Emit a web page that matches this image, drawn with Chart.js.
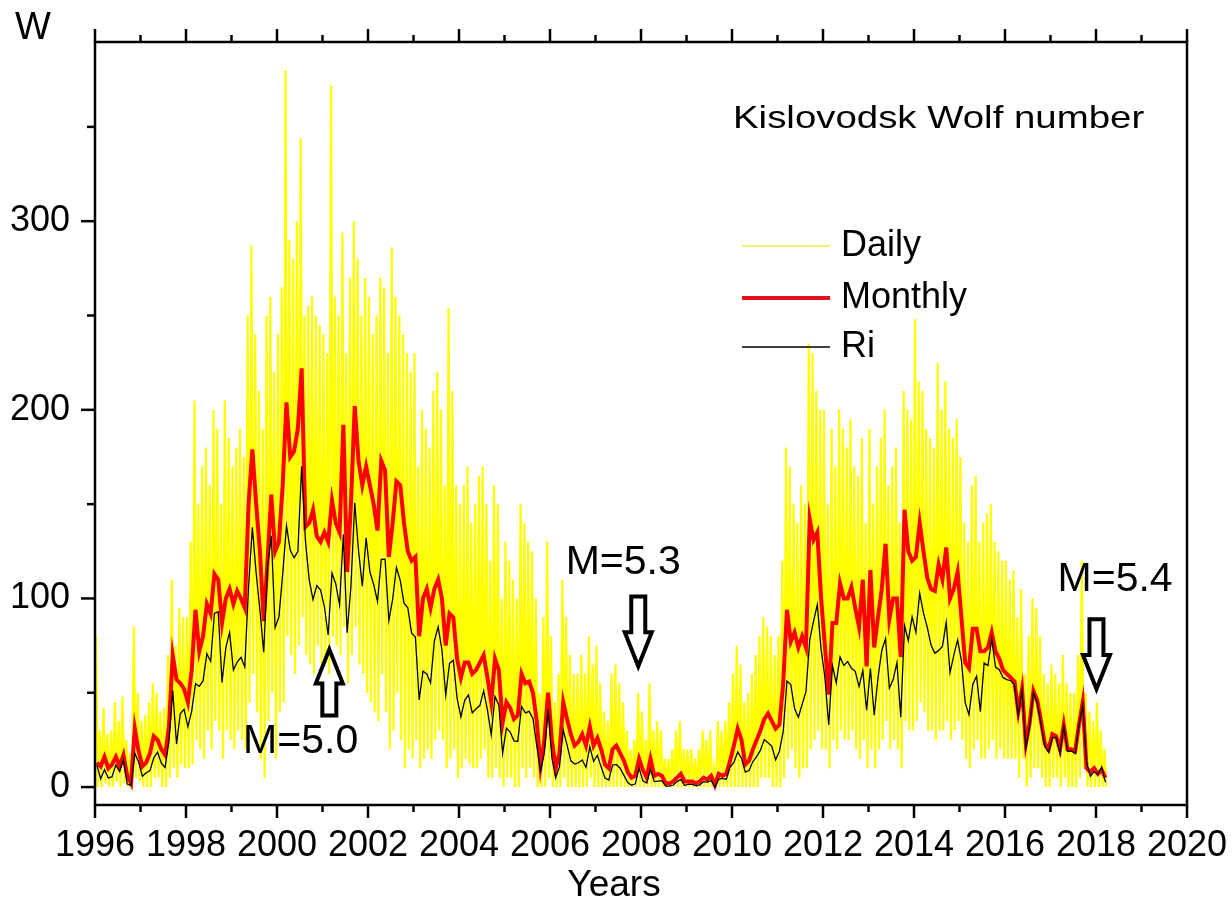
<!DOCTYPE html>
<html>
<head>
<meta charset="utf-8">
<script src="https://cdn.jsdelivr.net/npm/chart.js@4.4.1/dist/chart.umd.min.js"></script>
<style>
  html, body { margin: 0; padding: 0; background: #fff; }
  canvas { display: block; }
</style>
</head>
<body>
<canvas id="wolfChart" width="1232" height="903"></canvas>
<script>
const startYear = 1996;   // first month of every series is Jan 1996

const xTickYears = [1996, 1998, 2000, 2002, 2004, 2006, 2008, 2010, 2012, 2014, 2016, 2018, 2020];
const xMinorYears = [1997, 1999, 2001, 2003, 2005, 2007, 2009, 2011, 2013, 2015, 2017, 2019];
const yTickValues = [0, 100, 200, 300];
const yMinorValues = [50, 150, 250, 350];

// Kislovodsk monthly Wolf number, Jan 1996 .. Mar 2018
const monthlyW = [
  13, 11, 16, 10, 12, 16, 11, 17, 6, 2, 31, 19,
  11, 13, 18, 27, 25, 20, 17, 32, 70, 57, 55, 52,
  45, 62, 94, 72, 80, 97, 92, 113, 110, 87, 100, 105,
  97, 104, 100, 95, 150, 179, 150, 125, 88, 120, 155, 125,
  130, 160, 204, 175, 178, 190, 222, 138, 140, 147, 133, 130,
  135, 130, 152, 140, 135, 192, 114, 150, 202, 173, 160, 170,
  160, 150, 136, 173, 168, 122, 140, 162, 160, 140, 125, 120,
  122, 80, 100, 105, 95, 105, 110, 100, 75, 92, 90, 68,
  58, 66, 66, 60, 62, 66, 70, 58, 45, 68, 62, 34,
  45, 42, 36, 38, 60, 55, 56, 50, 35, 11, 25, 50,
  25, 10, 18, 45, 36, 28, 22, 24, 28, 22, 32, 22,
  26, 20, 12, 10, 20, 22, 18, 14, 8, 5, 6, 15,
  9, 5, 15, 6, 7, 6, 2, 2, 3, 5, 7, 3,
  3, 3, 2, 3, 5, 4, 6, 1, 7, 6, 7, 14,
  22, 31, 25, 12, 14, 20, 25, 30, 36, 39, 35, 31,
  33, 55, 94, 77, 82, 74, 80, 74, 142, 131, 135, 100,
  75, 49, 87, 87, 108, 100, 100, 106, 95, 85, 110, 64,
  115, 74, 90, 105, 129, 89, 100, 100, 69, 147, 125, 120,
  122, 140, 125, 111, 105, 104, 118, 110, 127, 100, 105, 114,
  90, 66, 63, 84, 84, 72, 72, 74, 82, 72, 68, 62,
  60, 58, 56, 40, 52, 23, 34, 51, 46, 35, 23, 20,
  28, 27, 20, 33, 20, 20, 19, 33, 45, 10, 8, 10,
  7, 9, 5
];

// International sunspot number Ri, Jan 1996 .. Mar 2018
const riValues = [
  11.5, 4.4, 9.2, 4.8, 5.5, 11.8, 8.2, 14.4, 1.6, 0.9, 17.9, 13.3,
  5.7, 7.6, 8.7, 15.5, 18.5, 12.7, 10.4, 24.4, 51.3, 22.8, 39.0, 41.2,
  31.9, 40.3, 54.8, 53.4, 56.3, 70.7, 66.6, 92.2, 92.9, 55.5, 74.0, 81.9,
  62.0, 66.3, 68.8, 63.7, 106.4, 137.7, 113.5, 93.7, 71.5, 116.7, 133.2, 84.6,
  90.1, 112.9, 138.5, 125.5, 121.6, 124.9, 170.1, 130.5, 109.7, 99.4, 106.8, 104.4,
  95.6, 80.6, 113.5, 107.7, 96.6, 134.0, 81.8, 106.4, 150.7, 125.5, 106.5, 132.2,
  114.1, 107.4, 98.4, 120.7, 120.8, 88.3, 99.6, 116.4, 109.6, 97.5, 95.0, 81.6,
  79.5, 46.2, 61.5, 60.0, 55.2, 77.4, 85.0, 72.7, 48.8, 65.6, 67.2, 47.0,
  37.2, 46.0, 48.9, 39.3, 41.5, 43.2, 51.0, 40.9, 27.7, 48.0, 43.5, 17.9,
  31.3, 29.2, 24.5, 24.2, 42.7, 39.3, 40.1, 36.4, 22.1, 8.5, 18.0, 41.2,
  15.4, 5.0, 10.8, 30.2, 22.2, 13.9, 12.2, 12.9, 14.4, 10.5, 21.4, 13.6,
  16.9, 10.6, 4.8, 3.7, 11.7, 12.0, 10.0, 6.2, 2.4, 0.9, 1.7, 10.1,
  3.3, 2.1, 9.3, 2.9, 3.2, 3.4, 0.5, 0.5, 1.1, 2.9, 4.1, 0.8,
  1.5, 1.4, 0.7, 1.2, 2.9, 2.6, 3.5, 0.0, 4.2, 4.6, 4.2, 10.6,
  13.1, 18.6, 15.4, 7.9, 8.8, 13.5, 16.1, 19.6, 25.2, 23.5, 21.6, 14.5,
  19.0, 29.4, 56.2, 54.4, 41.6, 37.0, 43.9, 50.6, 78.0, 88.0, 96.7, 73.0,
  58.3, 32.9, 64.3, 55.2, 69.0, 64.5, 66.5, 63.0, 61.4, 53.3, 61.8, 40.8,
  62.9, 38.1, 57.9, 72.4, 78.7, 52.5, 57.0, 66.0, 37.0, 85.6, 77.6, 90.3,
  82.0, 102.8, 92.2, 84.7, 75.2, 71.0, 72.4, 74.6, 87.4, 60.6, 70.0, 78.1,
  67.0, 44.8, 38.4, 54.4, 58.8, 40.0, 65.8, 64.4, 78.6, 63.6, 62.2, 58.0,
  57.0, 56.4, 54.1, 37.9, 51.5, 20.5, 32.4, 50.2, 44.6, 33.4, 21.4, 18.5,
  26.1, 26.4, 17.7, 32.3, 18.9, 19.2, 17.8, 32.6, 43.6, 13.2, 5.7, 8.2,
  6.8, 10.7, 2.5
];

// daily values: highest and lowest day of each month, Jan 1996 .. Mar 2018
const dailyHigh = [
  80, 30, 42, 28, 30, 45, 35, 48, 25, 18, 85, 50,
  35, 38, 45, 55, 50, 40, 42, 70, 110, 75, 95, 90,
  90, 130, 205, 150, 170, 180, 160, 200, 190, 150, 205, 185,
  170, 180, 190, 175, 250, 287, 240, 210, 190, 250, 260, 220,
  240, 265, 380, 290, 280, 300, 344, 250, 255, 260, 250, 245,
  240, 230, 372, 260, 250, 294, 230, 270, 300, 280, 250, 270,
  260, 240, 250, 270, 265, 230, 286, 260, 250, 240, 230, 220,
  230, 170, 200, 190, 180, 210, 220, 200, 160, 254, 210, 160,
  150, 160, 170, 140, 150, 165, 170, 150, 120, 160, 150, 100,
  130, 120, 110, 100, 150, 140, 130, 125, 100, 50, 90, 130,
  80, 45, 60, 110, 90, 70, 60, 60, 70, 60, 80, 65,
  75, 55, 40, 35, 60, 65, 55, 45, 30, 20, 25, 50,
  40, 25, 55, 30, 35, 30, 15, 15, 20, 30, 35, 20,
  20, 20, 15, 20, 30, 25, 30, 10, 35, 30, 35, 45,
  60, 75, 65, 45, 50, 60, 70, 80, 90, 85, 80, 70,
  80, 120, 180, 170, 150, 140, 160, 150, 235, 230, 210, 200,
  200, 150, 190, 170, 200, 190, 180, 195, 170, 165, 185, 140,
  190, 150, 170, 185, 200, 160, 170, 180, 140, 210, 200, 195,
  248, 215, 210, 190, 185, 180, 225, 200, 215, 190, 185, 195,
  175, 140, 130, 160, 165, 130, 140, 145, 150, 130, 125, 120,
  120, 110, 115, 90, 105, 60, 80, 100, 95, 80, 60, 55,
  65, 60, 55, 70, 55, 50, 50, 70, 120, 50, 40, 35,
  45, 30, 20
];
const dailyLow = [
  0, 0, 2, 0, 0, 3, 0, 2, 0, 0, 5, 3,
  0, 0, 0, 5, 5, 0, 0, 5, 10, 5, 12, 10,
  10, 12, 25, 20, 15, 30, 20, 35, 30, 15, 30, 25,
  20, 30, 25, 20, 45, 60, 40, 15, 5, 35, 50, 15,
  40, 45, 80, 70, 60, 75, 90, 70, 65, 60, 75, 65,
  65, 60, 80, 75, 70, 85, 55, 70, 85, 65, 60, 50,
  45, 40, 35, 60, 40, 20, 30, 50, 25, 10, 20, 15,
  25, 10, 15, 20, 15, 25, 30, 25, 10, 15, 20, 5,
  10, 15, 12, 10, 10, 15, 20, 5, 5, 10, 5, 0,
  5, 5, 0, 0, 10, 5, 10, 5, 0, 0, 0, 5,
  0, 0, 0, 5, 0, 0, 0, 0, 0, 0, 5, 0,
  0, 0, 0, 0, 0, 0, 0, 0, 0, 0, 0, 0,
  0, 0, 0, 0, 0, 0, 0, 0, 0, 0, 0, 0,
  0, 0, 0, 0, 0, 0, 0, 0, 0, 0, 0, 0,
  0, 0, 0, 0, 0, 0, 0, 5, 5, 5, 0, 0,
  0, 5, 15, 20, 10, 5, 10, 10, 20, 25, 30, 20,
  20, 10, 25, 20, 30, 25, 25, 30, 20, 15, 25, 10,
  20, 10, 20, 25, 35, 20, 25, 20, 10, 35, 30, 30,
  35, 45, 40, 30, 30, 25, 30, 30, 35, 25, 30, 35,
  25, 15, 10, 20, 25, 15, 15, 20, 25, 15, 20, 15,
  15, 15, 15, 5, 15, 0, 5, 10, 10, 5, 0, 0,
  5, 5, 0, 5, 0, 0, 0, 5, 10, 0, 0, 0,
  0, 0, 0
];

// earthquake markers
const quakeLabels = ['M=5.0', 'M=5.3', 'M=5.4'];
const quakeYears = [2001.15, 2007.94, 2018.01];
const arrowTailW = [38, 101, 89];
const arrowTipW = [73, 64, 52];
const quakeLabelYears = [2000.52, 2007.61, 2018.42];
const quakeLabelW = [24, 119, 110];

const FONT = '"Liberation Sans", Arial, sans-serif';

const monthX = i => startYear + (i + 0.5) / 12;
const monthlyPoints = monthlyW.map((v, i) => ({ x: monthX(i), y: v }));
const riPoints = riValues.map((v, i) => ({ x: monthX(i), y: v }));
const dailyPoints = [];
dailyHigh.forEach((h, i) => {
  dailyPoints.push({ x: startYear + (i + 0.25) / 12, y: h });
  dailyPoints.push({ x: startYear + (i + 0.75) / 12, y: dailyLow[i] });
});

function line(ctx, x1, y1, x2, y2) {
  ctx.beginPath();
  ctx.moveTo(x1, y1);
  ctx.lineTo(x2, y2);
  ctx.stroke();
}

const decorations = {
  id: 'decorations',
  afterDatasetsDraw(chart) {
    const { ctx, chartArea: a, scales: { x, y } } = chart;
    ctx.save();
    ctx.strokeStyle = '#000';
    ctx.lineWidth = 2.5;
    ctx.strokeRect(a.left, a.top, a.right - a.left, a.bottom - a.top);

    // tick marks, outside the frame
    xTickYears.forEach(v => {
      const px = x.getPixelForValue(v);
      line(ctx, px, a.bottom, px, a.bottom + 13);
      line(ctx, px, a.top, px, a.top - 13);
    });
    xMinorYears.forEach(v => {
      const px = x.getPixelForValue(v);
      line(ctx, px, a.bottom, px, a.bottom + 7);
      line(ctx, px, a.top, px, a.top - 7);
    });
    yTickValues.forEach(v => {
      const py = y.getPixelForValue(v);
      line(ctx, a.left - 14, py, a.left, py);
    });
    yMinorValues.forEach(v => {
      const py = y.getPixelForValue(v);
      line(ctx, a.left - 8, py, a.left, py);
    });

    ctx.fillStyle = '#000';
    ctx.textBaseline = 'middle';
    ctx.textAlign = 'left';
    ctx.font = '38px ' + FONT;
    ctx.fillText('W', 15, 29);

    ctx.textAlign = 'center';
    ctx.font = '37px ' + FONT;
    ctx.fillText('Years', 614, 886);
    ctx.textAlign = 'left';

    // title, stretched a little like the original
    ctx.save();
    ctx.translate(733, 119);
    ctx.scale(1.2, 1);
    ctx.font = '32px ' + FONT;
    ctx.fillText('Kislovodsk Wolf number', 0, 0);
    ctx.restore();

    // legend
    const legendY = [246, 298, 347];
    ctx.font = '36px ' + FONT;
    chart.data.datasets.forEach((ds, i) => {
      ctx.strokeStyle = ds.legendColor || ds.borderColor;
      ctx.lineWidth = ds.legendWidth || ds.borderWidth;
      line(ctx, 742, legendY[i], 830, legendY[i]);
      ctx.fillText(ds.label, 841, legendY[i]);
    });

    // earthquake arrows
    ctx.strokeStyle = '#000';
    ctx.lineWidth = 4;
    ctx.lineJoin = 'miter';
    quakeYears.forEach((yr, i) => {
      const px = x.getPixelForValue(yr);
      const tail = y.getPixelForValue(arrowTailW[i]);
      const tip = y.getPixelForValue(arrowTipW[i]);
      const dir = tip > tail ? 1 : -1;
      const headLen = 34, headHalf = 13.5, shaftHalf = 7;
      const neck = tip - dir * headLen;
      ctx.beginPath();
      ctx.moveTo(px - shaftHalf, tail);
      ctx.lineTo(px - shaftHalf, neck);
      ctx.lineTo(px - headHalf, neck);
      ctx.lineTo(px, tip);
      ctx.lineTo(px + headHalf, neck);
      ctx.lineTo(px + shaftHalf, neck);
      ctx.lineTo(px + shaftHalf, tail);
      ctx.closePath();
      ctx.stroke();

      ctx.font = '41px ' + FONT;
      ctx.textAlign = 'center';
      ctx.fillText(quakeLabels[i],
        x.getPixelForValue(quakeLabelYears[i]),
        y.getPixelForValue(quakeLabelW[i]));
    });
    ctx.restore();
  }
};

new Chart(document.getElementById('wolfChart').getContext('2d'), {
  type: 'line',
  data: {
    datasets: [
      {
        label: 'Daily',
        data: dailyPoints,
        borderColor: '#ffff00',
        legendColor: '#e6ef3c',
        legendWidth: 1.5,
        borderWidth: 2.2,
        pointRadius: 0,
        tension: 0,
        order: 3
      },
      {
        label: 'Monthly',
        data: monthlyPoints,
        borderColor: '#ff0000',
        legendColor: '#e0101a',
        borderWidth: 4,
        pointRadius: 0,
        tension: 0,
        order: 2
      },
      {
        label: 'Ri',
        data: riPoints,
        borderColor: '#000000',
        borderWidth: 1.3,
        pointRadius: 0,
        tension: 0,
        order: 1
      }
    ]
  },
  options: {
    responsive: false,
    animation: false,
    devicePixelRatio: 1,
    events: [],
    layout: { padding: { top: 42, right: 45, left: 0, bottom: 0 } },
    plugins: {
      legend: { display: false },
      tooltip: { enabled: false }
    },
    scales: {
      x: {
        type: 'linear',
        min: 1996,
        max: 2020,
        afterBuildTicks: s => { s.ticks = xTickYears.map(v => ({ value: v })); },
        afterFit: s => { s.height = 98; s.paddingLeft = 0; s.paddingRight = 0; },
        grid: { display: false, drawTicks: false },
        border: { display: false },
        ticks: {
          color: '#000',
          font: { family: FONT, size: 36 },
          padding: 19,
          maxRotation: 0,
          autoSkip: false,
          callback: v => String(v)
        }
      },
      y: {
        type: 'linear',
        min: -9.5,
        max: 395,
        afterBuildTicks: s => { s.ticks = yTickValues.map(v => ({ value: v })); },
        afterFit: s => { s.width = 95; s.paddingTop = 0; s.paddingBottom = 0; },
        grid: { display: false, drawTicks: false },
        border: { display: false },
        ticks: {
          color: '#000',
          font: { family: FONT, size: 36 },
          padding: 25,
          callback: v => String(v)
        }
      }
    }
  },
  plugins: [decorations]
});
</script>
</body>
</html>
